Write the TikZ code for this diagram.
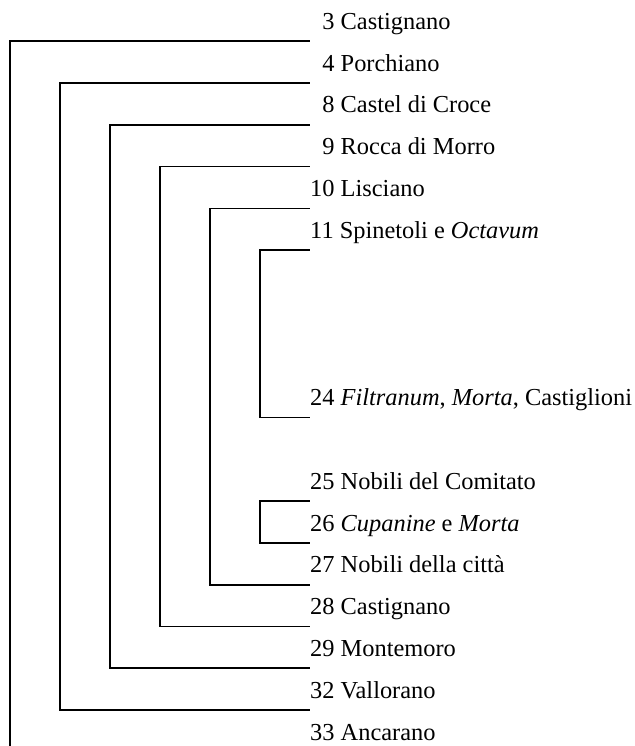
\documentclass[tikz,border=0pt]{standalone}
\usepackage{fontspec}
\setmainfont{Liberation Serif}
\begin{document}
\begin{tikzpicture}[x=1pt,y=-1pt,
  branch/.style={line width=1.8pt,line cap=rect},
  leaf/.style={anchor=base west,inner sep=0pt,font=\fontsize{24.4}{28}\selectfont}]
\useasboundingbox (0,0) rectangle (634,746);
% rows are 41.8 apart, counted upward from the last one (k = 0)
\def\rowtick#1{710-41.8*(#1-1)}
\def\rowbase#1{740-41.8*(#1)}
\def\tipx{309}
\def\lx{310}
% labels
\node[leaf] (n3)  at (\lx,{\rowbase{17}}) {\phantom{0}3 Castignano};
\node[leaf] (n4)  at (\lx,{\rowbase{16}}) {\phantom{0}4 Porchiano};
\node[leaf] (n8)  at (\lx,{\rowbase{15}}) {\phantom{0}8 Castel di Croce};
\node[leaf] (n9)  at (\lx,{\rowbase{14}}) {\phantom{0}9 Rocca di Morro};
\node[leaf] (n10) at (\lx,{\rowbase{13}}) {10 Lisciano};
\node[leaf] (n11) at (\lx,{\rowbase{12}}) {11 Spinetoli e \textit{Octavum}};
\node[leaf] (n24) at (\lx,{\rowbase{8}})  {24 \textit{Filtranum}, \textit{Morta}, Castiglioni};
\node[leaf] (n25) at (\lx,{\rowbase{6}})  {25 Nobili del Comitato};
\node[leaf] (n26) at (\lx,{\rowbase{5}})  {26 \textit{Cupanine} e \textit{Morta}};
\node[leaf] (n27) at (\lx,{\rowbase{4}})  {27 Nobili della città};
\node[leaf] (n28) at (\lx,{\rowbase{3}})  {28 Castignano};
\node[leaf] (n29) at (\lx,{\rowbase{2}})  {29 Montemoro};
\node[leaf] (n32) at (\lx,{\rowbase{1}})  {32 Vallorano};
\node[leaf] (n33) at (\lx,{\rowbase{0}})  {33 Ancarano};
% tips of the branches, just under each label
\coordinate (t3)  at (\tipx,{\rowtick{17}});
\coordinate (t4)  at (\tipx,{\rowtick{16}});
\coordinate (t8)  at (\tipx,{\rowtick{15}});
\coordinate (t9)  at (\tipx,{\rowtick{14}});
\coordinate (t10) at (\tipx,{\rowtick{13}});
\coordinate (t11) at (\tipx,{\rowtick{12}});
\coordinate (t24) at (\tipx,{\rowtick{8}});
\coordinate (t25) at (\tipx,{\rowtick{6}});
\coordinate (t26) at (\tipx,{\rowtick{5}});
\coordinate (t27) at (\tipx,{\rowtick{4}});
\coordinate (t28) at (\tipx,{\rowtick{3}});
\coordinate (t29) at (\tipx,{\rowtick{2}});
\coordinate (t32) at (\tipx,{\rowtick{1}});
\coordinate (root) at (10,746);
% nested brackets
\draw[branch] (t3) -| (root);
\draw[branch] (t4)  -- ++(-249,0) |- (t32);
\draw[branch] (t8)  -- ++(-199,0) |- (t29);
\draw[branch] (t9)  -- ++(-149,0) |- (t28);
\draw[branch] (t10) -- ++(-99,0)  |- (t27);
\draw[branch] (t11) -- ++(-49,0)  |- (t24);
\draw[branch] (t25) -- ++(-49,0)  |- (t26);
\end{tikzpicture}
\end{document}
